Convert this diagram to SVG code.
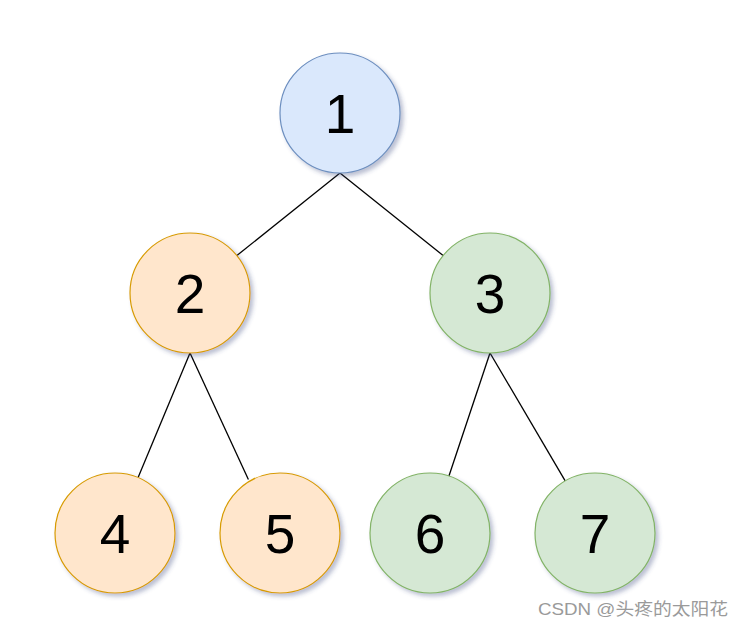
<svg xmlns="http://www.w3.org/2000/svg" width="744" height="628" viewBox="0 0 744 628">
<defs>
<filter id="sh" x="-20%" y="-20%" width="150%" height="150%">
<feDropShadow dx="3" dy="3" stdDeviation="2" flood-color="#3a4680" flood-opacity="0.35"/>
</filter>
<style>
.n circle{stroke-width:1.2;filter:url(#sh)}
.blue circle{fill:#dae8fc;stroke:#6c8ebf}
.orange circle{fill:#ffe6cc;stroke:#d79b00}
.green circle{fill:#d5e8d4;stroke:#82b366}
.n text{font-family:"Liberation Sans",Arial,sans-serif;font-size:55px;fill:#000;text-anchor:middle}
.e line{stroke:#000;stroke-width:1.3}
.wm{font-family:"Liberation Sans","Noto Sans CJK SC",sans-serif;font-size:17px;fill:#9a9a9a}
</style>
</defs>
<rect width="744" height="628" fill="#fff"/>
<g id="connectors" class="e">
<line x1="340" y1="173" x2="236.9" y2="255.5"/>
<line x1="340" y1="173" x2="443.1" y2="255.5"/>
<line x1="190" y1="353" x2="138.1" y2="477.6"/>
<line x1="190" y1="353" x2="248.4" y2="479.6"/>
<line x1="490" y1="353" x2="448.7" y2="476.8"/>
<line x1="490" y1="353" x2="565.2" y2="480.8"/>
</g>
<g id="node1" class="n blue"><circle cx="340" cy="113" r="60"/><text x="340" y="133">1</text></g>
<g id="node2" class="n orange"><circle cx="190" cy="293" r="60"/><text x="190" y="313">2</text></g>
<g id="node3" class="n green"><circle cx="490" cy="293" r="60"/><text x="490" y="313">3</text></g>
<g id="node4" class="n orange"><circle cx="115" cy="533" r="60"/><text x="115" y="553">4</text></g>
<g id="node5" class="n orange"><circle cx="280" cy="533" r="60"/><text x="280" y="553">5</text></g>
<g id="node6" class="n green"><circle cx="430" cy="533" r="60"/><text x="430" y="553">6</text></g>
<g id="node7" class="n green"><circle cx="595" cy="533" r="60"/><text x="595" y="553">7</text></g>
<text class="wm" x="538" y="615" textLength="190" lengthAdjust="spacingAndGlyphs">CSDN @头疼的太阳花</text>
</svg>
